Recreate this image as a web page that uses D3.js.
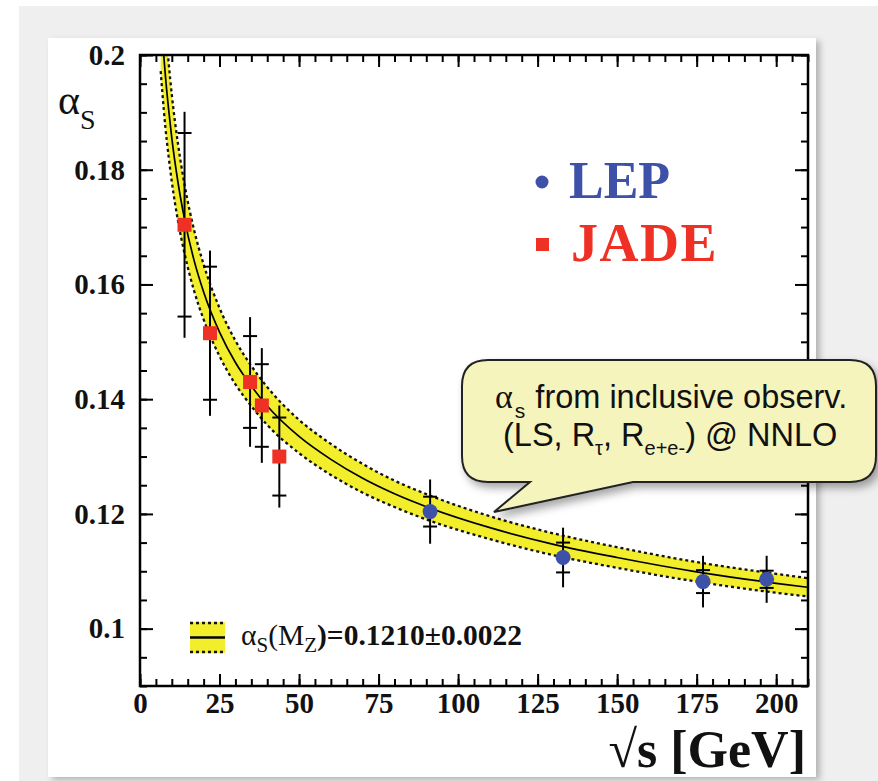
<!DOCTYPE html>
<html>
<head>
<meta charset="utf-8">
<script src="https://cdn.jsdelivr.net/npm/d3@7"></script>
<style>
  body { margin: 0; background: #fff; }
  svg { display: block; }
</style>
</head>
<body>
<div id="canvas"></div>
<script>
// running coupling band
var curveSqrtS = [6.5, 7, 7.5, 8, 9, 10, 12, 14, 17, 20, 25, 30, 35, 40, 50, 60, 70, 80, 91.2, 110, 130, 150, 175, 200, 210]
var curveAlpha = [0.2077, 0.2035, 0.1997, 0.1963, 0.1905, 0.1855, 0.1776, 0.1714, 0.1642, 0.1587, 0.1517, 0.1464, 0.1423, 0.1388, 0.1335, 0.1295, 0.1262, 0.1235, 0.1210, 0.1176, 0.1147, 0.1124, 0.1099, 0.1079, 0.1072]
var curveErr = [0.0105, 0.0099, 0.0094, 0.0090, 0.0082, 0.0076, 0.0067, 0.0060, 0.0053, 0.0048, 0.0042, 0.0038, 0.0035, 0.0033, 0.0029, 0.0027, 0.0025, 0.0023, 0.0022, 0.0020, 0.0019, 0.0018, 0.0017, 0.00165, 0.0016]

// JADE points
var jadeSqrtS = [14, 22, 34.6, 38.3, 43.8]
var jadeAlpha = [0.1704, 0.1515, 0.1430, 0.1389, 0.1300]
var jadeStat = [0.0160, 0.0116, 0.0080, 0.0072, 0.0068]
var jadeTot = [0.0197, 0.0144, 0.0113, 0.0100, 0.0089]

// LEP points
var lepSqrtS = [91.2, 133, 177, 197]
var lepAlpha = [0.1204, 0.1124, 0.1082, 0.1086]
var lepStat = [0.0026, 0.0026, 0.0020, 0.0015]
var lepTot = [0.0056, 0.0052, 0.0045, 0.0041]

var xTicks = [0, 25, 50, 75, 100, 125, 150, 175, 200]
var yTicks = [0.1, 0.12, 0.14, 0.16, 0.18, 0.2]
var yTickLabels = ["0.1", "0.12", "0.14", "0.16", "0.18", "0.2"]

var width = 878
var height = 781
var pL = 140, pR = 808, pT = 55, pB = 686

var yellow = "#f2ee2c"
var serif = "'Liberation Serif', 'Times New Roman', serif"
var sans = "'Liberation Sans', Arial, sans-serif"

var svg = d3.select("#canvas")
    .append("svg")
    .attr("width", width)
    .attr("height", height)

var defs = svg.append("defs")
defs.append("clipPath").attr("id", "plotclip")
    .append("rect").attr("x", pL).attr("y", pT)
    .attr("width", pR - pL).attr("height", pB - pT)
var shadow = defs.append("filter").attr("id", "shadow")
    .attr("x", "-10%").attr("y", "-10%").attr("width", "130%").attr("height", "140%")
shadow.append("feDropShadow").attr("dx", 4).attr("dy", 5)
    .attr("stdDeviation", 4).attr("flood-color", "#000").attr("flood-opacity", 0.35)
var panelShadow = defs.append("filter").attr("id", "pshadow")
    .attr("x", "-5%").attr("y", "-5%").attr("width", "115%").attr("height", "115%")
panelShadow.append("feDropShadow").attr("dx", 4).attr("dy", 3)
    .attr("stdDeviation", 3).attr("flood-color", "#000").attr("flood-opacity", 0.25)

// slide background
svg.append("rect").attr("x", 19).attr("y", 6).attr("width", width - 19).attr("height", height - 6)
    .attr("fill", "#efefef")
svg.append("rect").attr("x", 48).attr("y", 38).attr("width", 768).attr("height", 739)
    .attr("fill", "#fff").attr("filter", "url(#pshadow)")

var x = d3.scaleLinear().domain([0, 210]).range([pL, pR])
var y = d3.scaleLinear().domain([0.09, 0.2]).range([pB, pT])

var curve = curveSqrtS.map(function (s, i) {
    return { s: s, a: curveAlpha[i], e: curveErr[i] }
})

var plot = svg.append("g").attr("clip-path", "url(#plotclip)")

plot.append("path")
    .datum(curve)
    .attr("fill", yellow)
    .attr("d", d3.area()
        .x(function (d) { return x(d.s) })
        .y0(function (d) { return y(d.a - d.e) })
        .y1(function (d) { return y(d.a + d.e) })
        .curve(d3.curveMonotoneX))

;[1, -1].forEach(function (sign) {
    plot.append("path")
        .datum(curve)
        .attr("fill", "none")
        .attr("stroke", "#111")
        .attr("stroke-width", 2.3)
        .attr("stroke-dasharray", "3,3")
        .attr("d", d3.line()
            .x(function (d) { return x(d.s) })
            .y(function (d) { return y(d.a + sign * d.e) })
            .curve(d3.curveMonotoneX))
})

plot.append("path")
    .datum(curve)
    .attr("fill", "none")
    .attr("stroke", "#000")
    .attr("stroke-width", 1.7)
    .attr("d", d3.line()
        .x(function (d) { return x(d.s) })
        .y(function (d) { return y(d.a) })
        .curve(d3.curveMonotoneX))

// error bars
function errorBars(sq, al, st, tot) {
    var g = svg.append("g").attr("stroke", "#000").attr("stroke-width", 2)
    sq.forEach(function (s, i) {
        g.append("line")
            .attr("x1", x(s)).attr("x2", x(s))
            .attr("y1", y(al[i] + tot[i])).attr("y2", y(al[i] - tot[i]))
        ;[1, -1].forEach(function (sign) {
            g.append("line")
                .attr("x1", x(s) - 7).attr("x2", x(s) + 7)
                .attr("y1", y(al[i] + sign * st[i])).attr("y2", y(al[i] + sign * st[i]))
        })
    })
}
errorBars(jadeSqrtS, jadeAlpha, jadeStat, jadeTot)
errorBars(lepSqrtS, lepAlpha, lepStat, lepTot)

svg.selectAll(".jade")
    .data(jadeSqrtS)
    .enter()
    .append("rect")
    .attr("class", "jade")
    .attr("x", function (d) { return x(d) - 7 })
    .attr("y", function (d, i) { return y(jadeAlpha[i]) - 7 })
    .attr("width", 14)
    .attr("height", 14)
    .attr("fill", "#ee3124")

svg.selectAll(".lep")
    .data(lepSqrtS)
    .enter()
    .append("circle")
    .attr("class", "lep")
    .attr("cx", function (d) { return x(d) })
    .attr("cy", function (d, i) { return y(lepAlpha[i]) })
    .attr("r", 7.5)
    .attr("fill", "#3e51a8")

// axes, ticks inward on all four sides
function styleAxis(g) {
    g.selectAll(".domain").remove()
    g.selectAll(".tick line").attr("stroke", "#000").attr("stroke-width", 2)
    g.selectAll("text").attr("font-family", serif).attr("font-weight", "bold")
        .attr("font-size", 29).attr("fill", "#111")
}
var xMinor = d3.range(0, 211, 5)
var yMinor = d3.range(0, 23).map(function (i) { return 0.09 + i * 0.005 })

svg.append("g").attr("transform", `translate(0,${pB})`)
    .call(d3.axisBottom(x).tickValues(xMinor).tickSize(-7).tickFormat(""))
    .call(styleAxis)
svg.append("g").attr("transform", `translate(0,${pB})`)
    .call(d3.axisBottom(x).tickValues(xTicks).tickSize(-12).tickPadding(6).tickFormat(d3.format("d")))
    .call(styleAxis)
svg.append("g").attr("transform", `translate(0,${pT})`)
    .call(d3.axisTop(x).tickValues(xMinor).tickSize(-7).tickFormat(""))
    .call(styleAxis)
svg.append("g").attr("transform", `translate(0,${pT})`)
    .call(d3.axisTop(x).tickValues(xTicks).tickSize(-12).tickFormat(""))
    .call(styleAxis)
svg.append("g").attr("transform", `translate(${pL},0)`)
    .call(d3.axisLeft(y).tickValues(yMinor).tickSize(-7).tickFormat(""))
    .call(styleAxis)
svg.append("g").attr("transform", `translate(${pL},0)`)
    .call(d3.axisLeft(y).tickValues(yTicks).tickSize(-13).tickPadding(15)
        .tickFormat(function (d, i) { return yTickLabels[i] }))
    .call(styleAxis)
svg.append("g").attr("transform", `translate(${pR},0)`)
    .call(d3.axisRight(y).tickValues(yMinor).tickSize(-7).tickFormat(""))
    .call(styleAxis)
svg.append("g").attr("transform", `translate(${pR},0)`)
    .call(d3.axisRight(y).tickValues(yTicks).tickSize(-13).tickFormat(""))
    .call(styleAxis)

svg.append("rect")
    .attr("x", pL).attr("y", pT)
    .attr("width", pR - pL).attr("height", pB - pT)
    .attr("fill", "none").attr("stroke", "#000").attr("stroke-width", 2.5)

// axis titles
var yt = svg.append("text").attr("x", 58).attr("y", 114)
    .attr("font-family", serif).attr("fill", "#111")
yt.append("tspan").attr("font-size", 42).text("α")
yt.append("tspan").attr("font-size", 28).attr("dy", 15).text("S")

svg.append("text").attr("x", 806).attr("y", 767)
    .attr("text-anchor", "end")
    .attr("font-family", serif).attr("font-weight", "bold")
    .attr("font-size", 52).attr("fill", "#111")
    .text("√s [GeV]")

// legend LEP / JADE
svg.append("circle").attr("cx", 542).attr("cy", 182).attr("r", 6.5).attr("fill", "#3e51a8")
svg.append("text").attr("x", 569).attr("y", 198)
    .attr("font-family", serif).attr("font-weight", "bold").attr("font-size", 52)
    .attr("fill", "#3e51a8").text("LEP")
svg.append("rect").attr("x", 536).attr("y", 238).attr("width", 13).attr("height", 13).attr("fill", "#ee3124")
svg.append("text").attr("x", 571).attr("y", 261)
    .attr("font-family", serif).attr("font-weight", "bold").attr("font-size", 54)
    .attr("letter-spacing", 1.5)
    .attr("fill", "#ee3124").text("JADE")

// legend band
var lg = svg.append("g")
lg.append("rect").attr("x", 190).attr("y", 622).attr("width", 35).attr("height", 31).attr("fill", yellow)
lg.append("line").attr("x1", 190).attr("x2", 225).attr("y1", 623).attr("y2", 623)
    .attr("stroke", "#111").attr("stroke-width", 2.3).attr("stroke-dasharray", "3,3")
lg.append("line").attr("x1", 190).attr("x2", 225).attr("y1", 652).attr("y2", 652)
    .attr("stroke", "#111").attr("stroke-width", 2.3).attr("stroke-dasharray", "3,3")
lg.append("line").attr("x1", 190).attr("x2", 225).attr("y1", 637.5).attr("y2", 637.5)
    .attr("stroke", "#000").attr("stroke-width", 2.5)
var lt = lg.append("text").attr("x", 241).attr("y", 645)
    .attr("font-family", serif).attr("font-size", 29.5).attr("fill", "#111")
lt.append("tspan").text("α")
lt.append("tspan").attr("font-size", 21).attr("dy", 7).text("S")
lt.append("tspan").attr("dy", -7).text("(M")
lt.append("tspan").attr("font-size", 21).attr("dy", 7).text("Z")
lt.append("tspan").attr("dy", -7).attr("font-weight", "bold").text(")=0.1210±0.0022")

// callout
var cx0 = 462, cy0 = 360, cx1 = 876, cy1 = 482, r = 26
var p = d3.path()
p.moveTo(cx0 + r, cy0)
p.lineTo(cx1 - r, cy0)
p.quadraticCurveTo(cx1, cy0, cx1, cy0 + r)
p.lineTo(cx1, cy1 - r)
p.quadraticCurveTo(cx1, cy1, cx1 - r, cy1)
p.lineTo(633, cy1)
p.lineTo(494, 512)
p.lineTo(530, cy1)
p.lineTo(cx0 + r, cy1)
p.quadraticCurveTo(cx0, cy1, cx0, cy1 - r)
p.lineTo(cx0, cy0 + r)
p.quadraticCurveTo(cx0, cy0, cx0 + r, cy0)
p.closePath()
svg.append("path").attr("d", p.toString())
    .attr("fill", "#f6f4bd").attr("stroke", "#222").attr("stroke-width", 2)
    .attr("filter", "url(#shadow)")

var c1 = svg.append("text").attr("x", 495).attr("y", 408)
    .attr("font-family", sans).attr("font-size", 32.5).attr("fill", "#111")
c1.append("tspan").attr("font-family", serif).attr("font-size", 34).text("α")
c1.append("tspan").attr("font-size", 21).attr("dy", 10).attr("dx", 2).text("s")
c1.append("tspan").attr("dy", -10).attr("dx", 1).text(" from inclusive observ.")

var c2 = svg.append("text").attr("x", 503).attr("y", 446)
    .attr("font-family", sans).attr("font-size", 32.5).attr("fill", "#111")
c2.append("tspan").text("(LS, R")
c2.append("tspan").attr("font-size", 20).attr("dy", 9).text("τ")
c2.append("tspan").attr("dy", -9).text(", R")
c2.append("tspan").attr("font-size", 20).attr("dy", 9).text("e+e-")
c2.append("tspan").attr("dy", -9).text(") @ NNLO")
</script>
</body>
</html>
